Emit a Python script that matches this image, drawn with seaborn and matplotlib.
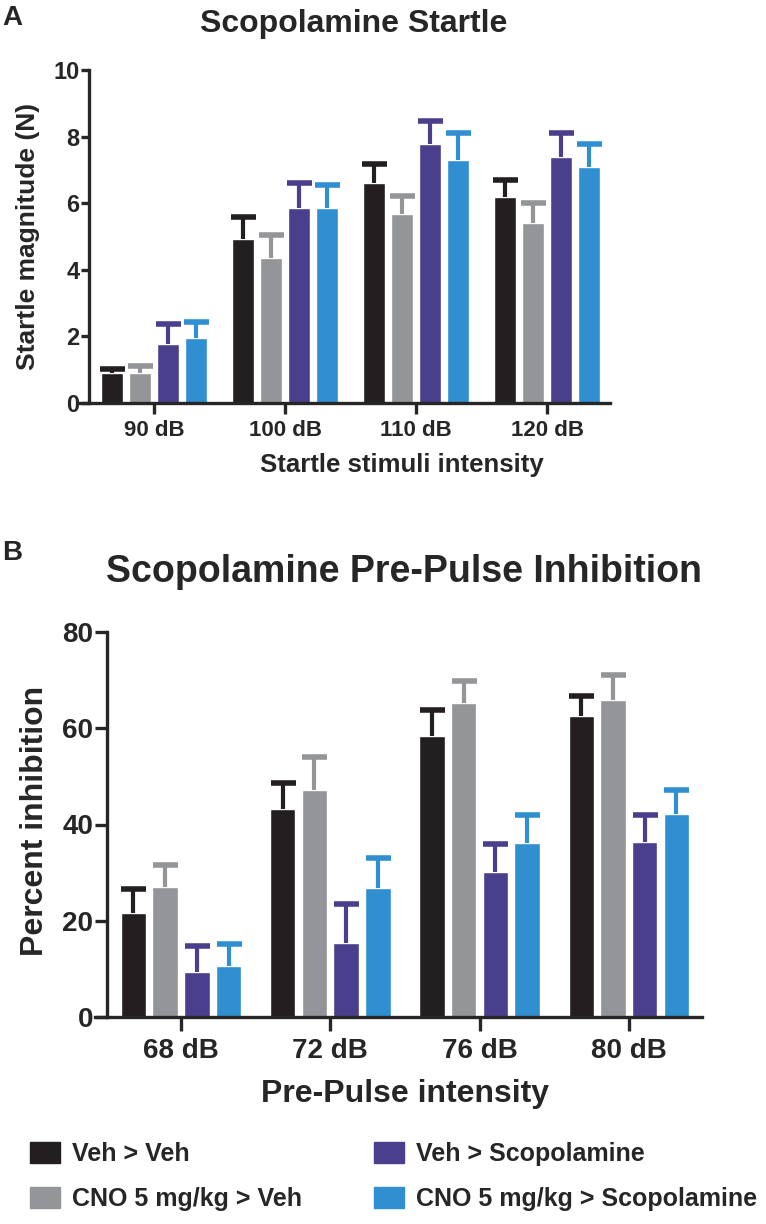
import numpy as np
import pandas as pd
import seaborn as sns
import matplotlib.pyplot as plt
import matplotlib.patches as mpatches

# groups and colours
groups = ['Veh > Veh', 'CNO 5 mg/kg > Veh', 'Veh > Scopolamine', 'CNO 5 mg/kg > Scopolamine']
colors = ['#231f20', '#939598', '#4a3f8d', '#2f8fd1']

# Panel A: startle magnitude (N), mean and SEM
startle_db = ['90 dB', '100 dB', '110 dB', '120 dB']
startle_veh_veh = [0.89, 4.91, 6.60, 6.20]
startle_cno_veh = [0.91, 4.34, 5.67, 5.40]
startle_veh_scop = [1.76, 5.85, 7.78, 7.40]
startle_cno_scop = [1.96, 5.85, 7.30, 7.10]
startle_sem_veh_veh = [0.13, 0.67, 0.57, 0.50]
startle_sem_cno_veh = [0.20, 0.70, 0.55, 0.60]
startle_sem_veh_scop = [0.61, 0.75, 0.69, 0.70]
startle_sem_cno_scop = [0.46, 0.70, 0.80, 0.67]

# Panel B: percent inhibition, mean and SEM
ppi_db = ['68 dB', '72 dB', '76 dB', '80 dB']
ppi_veh_veh = [21.7, 43.2, 58.4, 62.6]
ppi_cno_veh = [27.1, 47.2, 65.2, 65.9]
ppi_veh_scop = [9.4, 15.3, 30.1, 36.4]
ppi_cno_scop = [10.5, 26.8, 36.1, 42.1]
ppi_sem_veh_veh = [5.0, 5.5, 5.4, 4.2]
ppi_sem_cno_veh = [4.4, 6.9, 4.7, 5.2]
ppi_sem_veh_scop = [5.4, 8.1, 5.9, 5.6]
ppi_sem_cno_scop = [4.7, 6.2, 5.8, 5.1]

sns.set_theme(style='ticks')
plt.rcParams['font.family'] = ['Liberation Sans', 'DejaVu Sans']
plt.rcParams['font.weight'] = 'bold'
plt.rcParams['axes.labelweight'] = 'bold'


def bar_panel(ax, cats, means, sems):
    df = pd.DataFrame({
        'intensity': np.tile(cats, len(groups)),
        'group': np.repeat(groups, len(cats)),
        'value': np.concatenate(means),
    })
    sns.barplot(data=df, x='intensity', y='value', hue='group', hue_order=groups,
                palette=colors, saturation=1, width=0.85, gap=0.2,
                errorbar=None, legend=False, ax=ax)
    # one-sided SEM bars (upper only), same colour as the bar
    conts = list(ax.containers)
    for cont, err, col in zip(conts, sems, colors):
        xs = [b.get_x() + b.get_width() / 2 for b in cont]
        ys = [b.get_height() for b in cont]
        eb = ax.errorbar(xs, ys, yerr=[np.zeros(len(err)), err], fmt='none', ecolor=col,
                         elinewidth=3, capsize=9, capthick=4, clip_on=False, zorder=1)
        eb[1][0].set_visible(False)  # hide the cap sitting on the bar top
    sns.despine(ax=ax)
    for s in ['left', 'bottom']:
        ax.spines[s].set_linewidth(2.4)
    ax.spines['left'].set_position(('data', -0.496))


fig = plt.figure(figsize=(7.66, 12.24), dpi=100)

# ---- Panel A
axA = fig.add_axes([80 / 766, 1 - 403 / 1224, 530 / 766, 333 / 1224])
bar_panel(axA, startle_db,
          [startle_veh_veh, startle_cno_veh, startle_veh_scop, startle_cno_scop],
          [startle_sem_veh_veh, startle_sem_cno_veh, startle_sem_veh_scop, startle_sem_cno_scop])
axA.set_xlim(-0.565, 3.48)
axA.set_ylim(0, 10)
axA.set_yticks(range(0, 11, 2))
axA.tick_params(axis='y', length=6, width=2.4, labelsize=17, pad=1)
axA.tick_params(axis='x', length=8, width=2.4, labelsize=16, pad=4)
axA.set_xlabel('Startle stimuli intensity', fontsize=18.5)
axA.xaxis.set_label_coords(0.608, -0.15)
axA.xaxis.label.set_va('top')
axA.set_ylabel('Startle magnitude (N)', fontsize=19)
axA.yaxis.set_label_coords(-0.075, 0.5)
fig.text(354 / 766, 1 - 32 / 1224, 'Scopolamine Startle', fontsize=23,
         fontweight='bold', ha='center', va='baseline')
fig.text(2 / 766, 1 - 25 / 1224, 'A', fontsize=20, fontweight='bold', va='baseline')

# ---- Panel B
axB = fig.add_axes([95 / 766, 1 - 1017 / 1224, 607 / 766, 385 / 1224])
bar_panel(axB, ppi_db,
          [ppi_veh_veh, ppi_cno_veh, ppi_veh_scop, ppi_cno_scop],
          [ppi_sem_veh_veh, ppi_sem_cno_veh, ppi_sem_veh_scop, ppi_sem_cno_scop])
axB.set_xlim(-0.576, 3.49)
axB.set_ylim(0, 80)
axB.set_yticks(range(0, 81, 20))
axB.tick_params(axis='y', length=9, width=2.4, labelsize=20, pad=1)
axB.tick_params(axis='x', length=10, width=2.4, labelsize=20, pad=5)
axB.set_xlabel('Pre-Pulse intensity', fontsize=23)
axB.xaxis.set_label_coords(0.511, -0.16)
axB.xaxis.label.set_va('top')
axB.set_ylabel('Percent inhibition', fontsize=23)
axB.yaxis.set_label_coords(-0.074, 0.51)
fig.text(404 / 766, 1 - 582 / 1224, 'Scopolamine Pre-Pulse Inhibition', fontsize=27,
         fontweight='bold', ha='center', va='baseline')
fig.text(2 / 766, 1 - 560 / 1224, 'B', fontsize=20, fontweight='bold', va='baseline')

# ---- shared legend
handles = [mpatches.Patch(color=c, label=g) for c, g in zip(colors, groups)]
fig.legend(handles=handles, loc='upper left', bbox_to_anchor=(30 / 766, 1 - 1142 / 1224),
           ncol=2, frameon=False, fontsize=18, handlelength=1.2, handleheight=0.9,
           handletextpad=0.5, labelspacing=0.85, columnspacing=2.85,
           borderpad=0, borderaxespad=0)

fig.savefig('out.png', dpi=100)
